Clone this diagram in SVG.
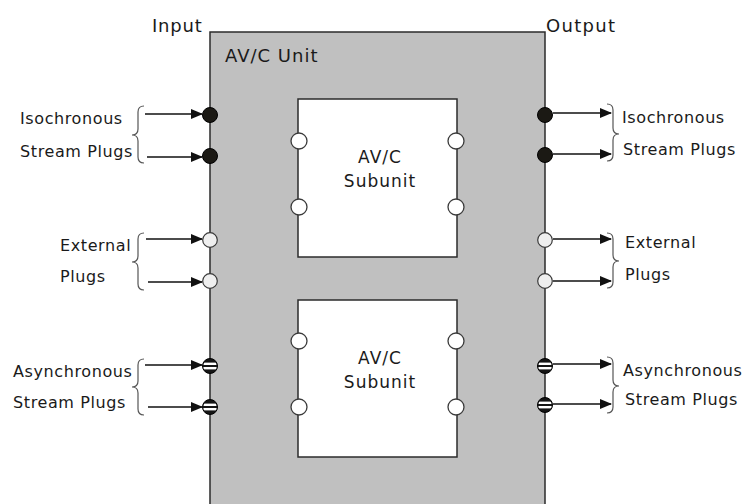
<svg xmlns="http://www.w3.org/2000/svg" xmlns:xlink="http://www.w3.org/1999/xlink" width="749" height="504" viewBox="0 0 749 504">
<style>
text{font-family:"DejaVu Sans","Liberation Sans",sans-serif;fill:#1a1a1a}
.lbl{font-size:16px;letter-spacing:0.6px}
.io{font-size:18px;letter-spacing:0.8px}
.unit{fill:#c0c0c0;stroke:#2b2b2b;stroke-width:1.5}
.sub{fill:#ffffff;stroke:#2b2b2b;stroke-width:1.5}
.port{fill:#ffffff;stroke:#3a3a3a;stroke-width:1.3}
.iso{fill:#1b1914;stroke:#000;stroke-width:1}
.ext{fill:#efefef;stroke:#3a3a3a;stroke-width:1.2}
.arr{stroke:#111;stroke-width:1.3;fill:none;marker-end:url(#ah)}
.brace{stroke:#555;stroke-width:1.2;fill:none}
.st{font-size:17px;letter-spacing:1px}
</style>
<defs>
<marker id="ah" markerWidth="12" markerHeight="10" refX="11" refY="5" orient="auto" markerUnits="userSpaceOnUse">
<path d="M0,0 L12,5 L0,10 Z" fill="#111"/>
</marker>
<clipPath id="cc"><circle cx="0" cy="0" r="6.8"/></clipPath>
<g id="async">
<circle cx="0" cy="0" r="7.5" fill="#151515" stroke="#000" stroke-width="1"/>
<g clip-path="url(#cc)" fill="#fff">
<rect x="-8" y="-3.4" width="16" height="2.4"/>
<rect x="-8" y="1" width="16" height="2.4"/>
</g>
</g>
</defs>

<g id="unit">
<rect class="unit" x="210" y="32" width="335" height="500"/>
<text x="225" y="62" style="font-size:18px;letter-spacing:1px">AV/C Unit</text>
</g>

<g id="subunit1">
<rect class="sub" x="298" y="99" width="159" height="158"/>
<text class="st" x="380" y="163" text-anchor="middle">AV/C</text>
<text class="st" x="380" y="187" text-anchor="middle">Subunit</text>
<circle class="port" cx="299" cy="141" r="8"/>
<circle class="port" cx="299" cy="207" r="8"/>
<circle class="port" cx="456" cy="141" r="8"/>
<circle class="port" cx="456" cy="207" r="8"/>
</g>

<g id="subunit2">
<rect class="sub" x="298" y="300" width="159" height="157"/>
<text class="st" x="380" y="364" text-anchor="middle">AV/C</text>
<text class="st" x="380" y="388" text-anchor="middle">Subunit</text>
<circle class="port" cx="299" cy="341" r="8"/>
<circle class="port" cx="299" cy="407" r="8"/>
<circle class="port" cx="456" cy="341" r="8"/>
<circle class="port" cx="456" cy="407" r="8"/>
</g>

<g id="input-label"><text class="io" x="152" y="32">Input</text></g>
<g id="output-label"><text class="io" x="546" y="32" style="letter-spacing:1.3px">Output</text></g>

<g id="in-iso">
<text class="lbl" x="20" y="124">Isochronous</text>
<text class="lbl" x="20" y="157">Stream Plugs</text>
<circle class="iso" cx="210" cy="115" r="7.5"/>
<circle class="iso" cx="210" cy="156" r="7.5"/>
</g>
<g id="in-ext">
<text class="lbl" x="60" y="251">External</text>
<text class="lbl" x="60" y="282">Plugs</text>
<circle class="ext" cx="210" cy="240" r="7.3"/>
<circle class="ext" cx="210" cy="281" r="7.3"/>
</g>
<g id="in-async">
<text class="lbl" x="13" y="377">Asynchronous</text>
<text class="lbl" x="13" y="408">Stream Plugs</text>
<use xlink:href="#async" x="210" y="366"/>
<use xlink:href="#async" x="210" y="407"/>
</g>

<g id="out-iso">
<text class="lbl" x="622" y="123">Isochronous</text>
<text class="lbl" x="623" y="155">Stream Plugs</text>
<circle class="iso" cx="545" cy="115" r="7.5"/>
<circle class="iso" cx="545" cy="155" r="7.5"/>
</g>
<g id="out-ext">
<text class="lbl" x="625" y="248">External</text>
<text class="lbl" x="625" y="280">Plugs</text>
<circle class="ext" cx="545" cy="240" r="7.3"/>
<circle class="ext" cx="545" cy="281" r="7.3"/>
</g>
<g id="out-async">
<text class="lbl" x="623" y="376">Asynchronous</text>
<text class="lbl" x="625" y="405">Stream Plugs</text>
<use xlink:href="#async" x="545" y="366"/>
<use xlink:href="#async" x="545" y="405"/>
</g>

<g id="connectors">
<line class="arr" x1="145" y1="114" x2="202" y2="114"/>
<line class="arr" x1="147" y1="157" x2="202" y2="157"/>
<line class="arr" x1="146" y1="239" x2="202" y2="239"/>
<line class="arr" x1="148" y1="282" x2="202" y2="282"/>
<line class="arr" x1="145" y1="365" x2="202" y2="365"/>
<line class="arr" x1="148" y1="407" x2="202" y2="407"/>
<line class="arr" x1="553" y1="113" x2="611" y2="113"/>
<line class="arr" x1="553" y1="154" x2="611" y2="154"/>
<line class="arr" x1="553" y1="239" x2="611" y2="239"/>
<line class="arr" x1="553" y1="281" x2="611" y2="281"/>
<line class="arr" x1="553" y1="364" x2="611" y2="364"/>
<line class="arr" x1="553" y1="404" x2="611" y2="404"/>
<path class="brace" d="M144,106 Q138,106 138,112 L138,129 Q138,135 132,135 Q138,135 138,141 L138,157 Q138,163 144,163"/>
<path class="brace" d="M144,233 Q138,233 138,239 L138,256 Q138,262 132,262 Q138,262 138,268 L138,284 Q138,290 144,290"/>
<path class="brace" d="M144,359 Q138,359 138,365 L138,381 Q138,387 132,387 Q138,387 138,393 L138,409 Q138,415 144,415"/>
<path class="brace" d="M607,104 Q613,104 613,110 L613,128 Q613,134 619,134 Q613,134 613,140 L613,155 Q613,161 607,161"/>
<path class="brace" d="M607,233 Q613,233 613,239 L613,255 Q613,261 619,261 Q613,261 613,267 L613,282 Q613,288 607,288"/>
<path class="brace" d="M607,357 Q613,357 613,363 L613,380 Q613,386 619,386 Q613,386 613,392 L613,407 Q613,413 607,413"/>
</g>
</svg>
